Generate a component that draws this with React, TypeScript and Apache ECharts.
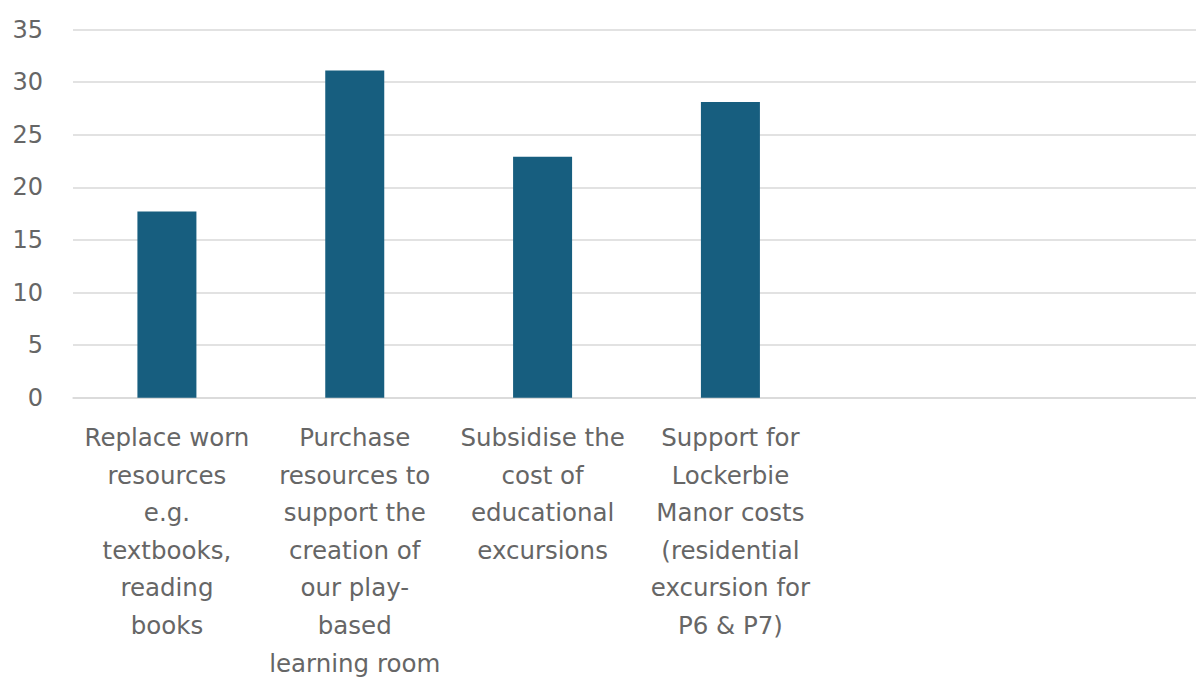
import React, { useEffect, useRef } from "react";
import * as echarts from "echarts";

const categories: string[] = [
  "Replace worn\nresources\ne.g.\ntextbooks,\nreading\nbooks",
  "Purchase\nresources to\nsupport the\ncreation of\nour play-\nbased\nlearning room",
  "Subsidise the\ncost of\neducational\nexcursions",
  "Support for\nLockerbie\nManor costs\n(residential\nexcursion for\nP6 & P7)",
];
const values: number[] = [17.7, 31.1, 22.9, 28.1];
const yTicks = { min: 0, max: 35, interval: 5 };

export default function App() {
  const ref = useRef<HTMLDivElement>(null);
  useEffect(() => {
    if (!ref.current) return;
    const chart = echarts.init(ref.current, undefined, { renderer: "svg" });
    const font = "'DejaVu Sans', sans-serif";
    chart.setOption({
      animation: false,
      grid: {
        left: 73,
        right: -4,
        top: 29.5,
        bottom: 280.3,
        containLabel: false,
        outerBoundsMode: "none",
      },
      xAxis: {
        type: "category",
        data: categories,
        max: 5,
        axisLine: { show: true, lineStyle: { color: "#d9d9d9", width: 1.5 } },
        axisTick: { show: false },
        axisLabel: {
          interval: 0,
          margin: 21,
          color: "#666666",
          fontFamily: font,
          fontSize: 24.5,
          lineHeight: 37.6,
          align: "center",
          verticalAlign: "top",
        },
      },
      yAxis: {
        type: "value",
        min: yTicks.min,
        max: yTicks.max,
        interval: yTicks.interval,
        axisLine: { show: false },
        axisTick: { show: false },
        splitLine: { lineStyle: { color: "#d9d9d9", width: 1.5 } },
        axisLabel: {
          margin: 30,
          color: "#666666",
          fontFamily: font,
          fontSize: 24,
        },
      },
      series: [
        {
          type: "bar",
          data: values,
          barWidth: 59,
          itemStyle: { color: "#175E7F" },
        },
      ],
    });
    return () => chart.dispose();
  }, []);
  return (
    <div
      ref={ref}
      style={{ width: 1196, height: 678, position: "fixed", left: 0, top: 0, background: "#fff" }}
    />
  );
}
